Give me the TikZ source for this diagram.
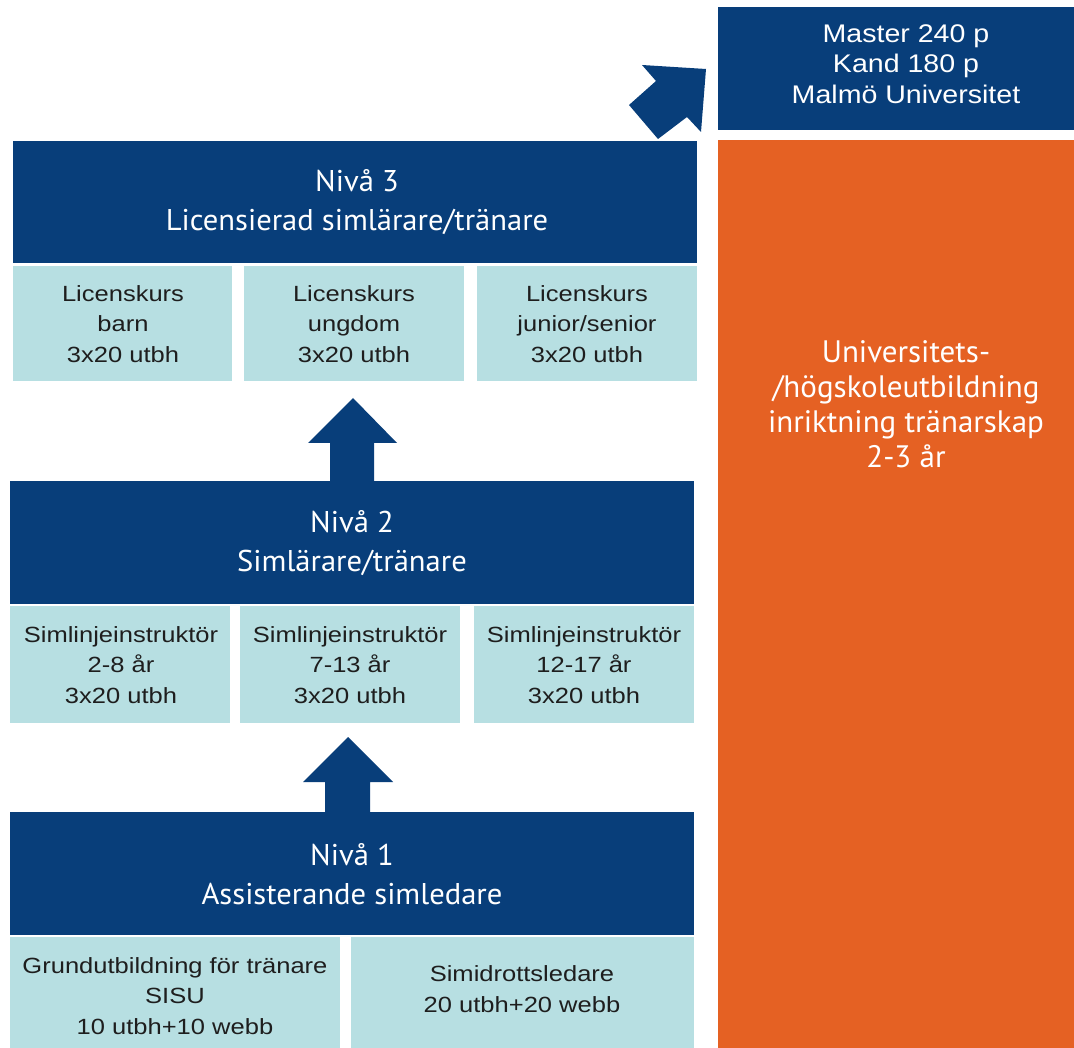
\documentclass[tikz,border=0pt]{standalone}
\usepackage{fontspec}
\setmainfont{Liberation Sans}
\newfontfamily\arialx[FakeStretch=1.16]{Liberation Sans}
\newfontfamily\arialm[FakeStretch=1.12]{Liberation Sans}
\newfontfamily\myriad[FakeStretch=1.02]{PT Sans}
\newfontfamily\myriadw{PT Sans}
\definecolor{navy}{RGB}{8,62,122}
\definecolor{pale}{RGB}{183,223,226}
\definecolor{orng}{RGB}{229,97,35}
\definecolor{ink}{RGB}{30,30,30}
\tikzset{
  title/.style={text=white, align=center, font=\myriad\fontsize{30}{39}\selectfont},
  sub/.style={text=ink, align=center, font=\arialx\fontsize{22}{30.5}\selectfont},
  uni/.style={text=white, align=center, font=\myriadw\fontsize{31}{35}\selectfont},
  master/.style={text=white, align=center, font=\arialm\fontsize{25.5}{30.5}\selectfont},
}
\begin{document}
\begin{tikzpicture}[x=1pt,y=-1pt]
\useasboundingbox (0,0) rectangle (1074,1048);
\fill[white] (0,0) rectangle (1074,1048);
% right column
\fill[navy] (718,7) rectangle (1074,130);
\fill[orng] (718,140) rectangle (1074,1048);
% level 3
\fill[navy] (13,141) rectangle (697,263);
\fill[pale] (13,266) rectangle (232,381);
\fill[pale] (244,266) rectangle (464,381);
\fill[pale] (477,266) rectangle (697,381);
% level 2
\fill[navy] (10,481) rectangle (694,604);
\fill[pale] (10,606) rectangle (230,723);
\fill[pale] (240,606) rectangle (460,723);
\fill[pale] (474,606) rectangle (694,723);
% level 1
\fill[navy] (10,812) rectangle (694,935);
\fill[pale] (10,937) rectangle (340,1048);
\fill[pale] (351,937) rectangle (694,1048);
% arrows
\fill[navy] (353,398) -- (397,443) -- (374,443) -- (374,481) -- (330,481) -- (330,443) -- (308,443) -- cycle;
\fill[navy] (348,737) -- (393,782) -- (370,782) -- (370,812) -- (325,812) -- (325,782) -- (303,782) -- cycle;
\fill[navy] (642,65) -- (706,69) -- (701,132) -- (687,117) -- (658,139) -- (629,105) -- (656,81) -- cycle;
% texts
\node[master] (m) at (906,64) {Master 240 p\\Kand 180 p\\Malmö Universitet};
\node[uni] (u) at (906,404) {Universitets-\\/högskoleutbildning\\inriktning tränarskap\\2-3 år};
\node[title] (n3) at (357,202) {Nivå 3\\Licensierad simlärare/tränare};
\node[title] (n2) at (352,543) {Nivå 2\\Simlärare/tränare};
\node[title] (n1) at (352,874) {Nivå 1\\Assisterande simledare};
\node[sub] (a1) at (123,324) {Licenskurs\\barn\\3x20 utbh};
\node[sub] (a2) at (354,324) {Licenskurs\\ungdom\\3x20 utbh};
\node[sub] (a3) at (587,324) {Licenskurs\\junior/senior\\3x20 utbh};
\node[sub] (b1) at (121,665) {Simlinjeinstruktör\\2-8 år\\3x20 utbh};
\node[sub] (b2) at (350,665) {Simlinjeinstruktör\\7-13 år\\3x20 utbh};
\node[sub] (b3) at (584,665) {Simlinjeinstruktör\\12-17 år\\3x20 utbh};
\node[sub] (c1) at (175,996) {Grundutbildning för tränare\\SISU\\10 utbh+10 webb};
\node[sub] (c2) at (522,989) {Simidrottsledare\\20 utbh+20 webb};
\end{tikzpicture}
\end{document}
